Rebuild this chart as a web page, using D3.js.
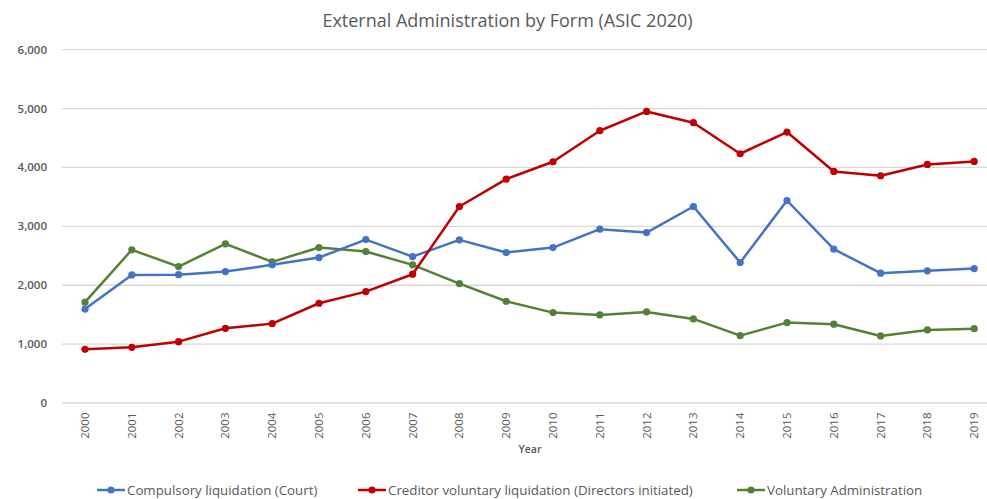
<!DOCTYPE html>
<html><head><meta charset="utf-8">
<script src="https://cdn.jsdelivr.net/npm/d3@7"></script>
<style>body{margin:0;background:#fff;} svg{display:block;font-family:"Open Sans",sans-serif;}</style>
</head><body>
<svg id="chart" width="987" height="499"></svg>
<script>
const years = ["2000","2001","2002","2003","2004","2005","2006","2007","2008","2009","2010","2011","2012","2013","2014","2015","2016","2017","2018","2019"];
const compulsory = [1595,2175,2180,2232,2346,2470,2775,2487,2771,2555,2640,2952,2895,3337,2385,3439,2612,2205,2244,2283];
const creditor = [912,946,1042,1269,1348,1694,1892,2187,3337,3802,4097,4624,4952,4760,4233,4601,3932,3859,4051,4102];
const voluntary = [1712,2601,2317,2703,2397,2640,2572,2346,2028,1728,1535,1496,1547,1428,1144,1365,1338,1139,1241,1263];
const yTicks = [0,1000,2000,3000,4000,5000,6000];
const seriesNames = ["Compulsory liquidation (Court)","Creditor voluntary liquidation (Directors initiated)","Voluntary Administration"];
const seriesColors = ["#4472C4","#C00000","#548235"];
const title = "External Administration by Form (ASIC 2020)";

(function(){
const svg = d3.select("#chart");
const mL = 61.6, mR = 997.6, mT = 49.7, mB = 403;
const x = d3.scaleBand().domain(years).range([mL, mR]);
const y = d3.scaleLinear().domain([0,6000]).range([mB, mT]);
const textCol = "#595959";

svg.append("text").attr("x", 507.5).attr("y", 27).attr("text-anchor","middle")
  .attr("font-size", 18).attr("fill", textCol).text(title);

svg.append("g").selectAll("line").data(yTicks).join("line")
  .attr("x1", mL).attr("x2", mR).attr("y1", d=>y(d)).attr("y2", d=>y(d))
  .attr("stroke", "#d9d9d9").attr("stroke-width", 1.3);

svg.append("g").selectAll("text").data(yTicks).join("text")
  .attr("x", 47).attr("y", d=>y(d)).attr("dy","0.35em").attr("text-anchor","end")
  .attr("font-size", 11.5).attr("font-weight", 600).attr("fill", textCol).text(d3.format(","));

svg.append("g").selectAll("text").data(years).join("text")
  .attr("transform", d=>`translate(${x(d)+x.bandwidth()/2},412.5) rotate(-90)`)
  .attr("text-anchor","end").attr("dy","0.35em")
  .attr("font-size", 11.5).attr("fill", textCol).text(d=>d);

svg.append("text").attr("x", 530).attr("y", 449).attr("dy","0.35em").attr("text-anchor","middle")
  .attr("font-size", 10.5).attr("font-weight",600).attr("fill", textCol).text("Year");

const allSeries = [compulsory, creditor, voluntary];
const line = d3.line().x((d,i)=>x(years[i])+x.bandwidth()/2).y(d=>y(d));
[2,0,1].forEach(k=>{
  const g = svg.append("g");
  g.append("path").datum(allSeries[k]).attr("d", line).attr("fill","none")
    .attr("stroke", seriesColors[k]).attr("stroke-width", 2.5).attr("stroke-linejoin","round");
  g.selectAll("circle").data(allSeries[k]).join("circle")
    .attr("cx",(d,i)=>x(years[i])+x.bandwidth()/2).attr("cy", d=>y(d)).attr("r", 3.6)
    .attr("fill", seriesColors[k]);
});

const legX = [97, 358, 737];
seriesNames.forEach((n,k)=>{
  const g = svg.append("g").attr("transform", `translate(${legX[k]},490)`);
  g.append("line").attr("x1",0).attr("x2",28).attr("stroke",seriesColors[k]).attr("stroke-width",2.5);
  g.append("circle").attr("cx",14).attr("r",3.6).attr("fill",seriesColors[k]);
  g.append("text").attr("x",30).attr("dy","0.35em").attr("font-size",13.3).attr("fill",textCol).text(n);
});
})();
</script>
</body></html>
